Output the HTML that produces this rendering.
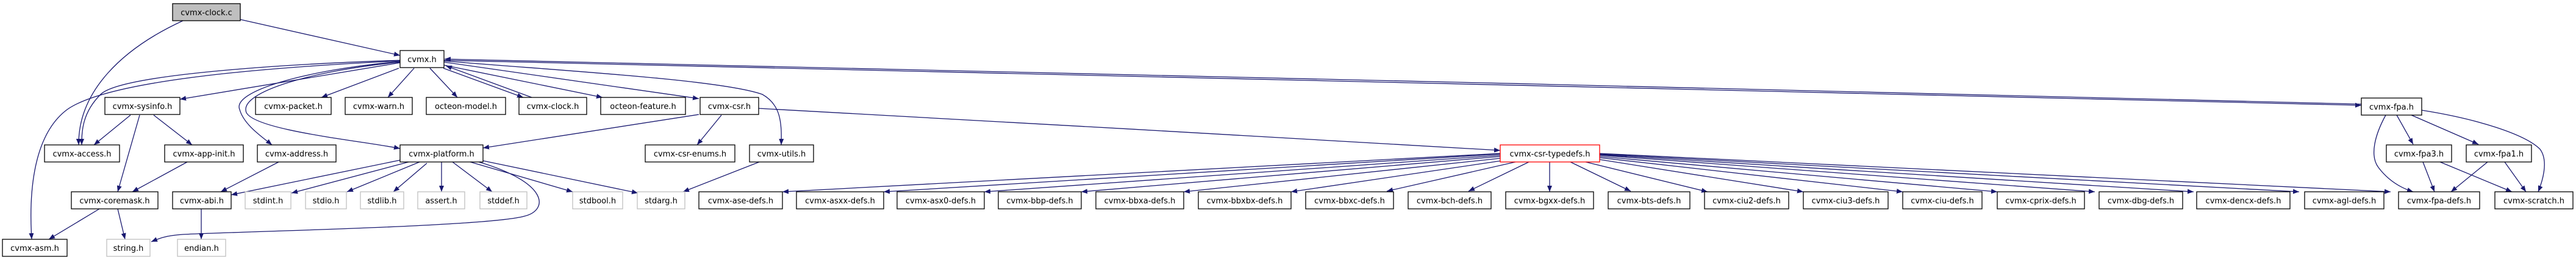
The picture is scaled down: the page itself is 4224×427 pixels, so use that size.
<!DOCTYPE html>
<html><head><meta charset="utf-8"><style>
html,body{margin:0;padding:0;background:#fff;width:4224px;height:427px;overflow:hidden}
svg text{font-family:"DejaVu Sans","Liberation Sans",sans-serif;font-size:13px;text-anchor:middle;fill:#000}
.e{fill:none;stroke:#191970;stroke-width:1.3;marker-end:url(#a)}
.n{fill:#fff;stroke:#000;stroke-width:1.3}
.g{fill:#fff;stroke:#bfbfbf;stroke-width:1.3}
</style></head><body>
<svg width="4224" height="427" viewBox="0 0 4224 427" xmlns="http://www.w3.org/2000/svg">
<defs><marker id="a" markerUnits="userSpaceOnUse" markerWidth="11" markerHeight="8" refX="10" refY="4" orient="auto"><path d="M0,0 L10,4 L0,8 z" fill="#191970"/></marker></defs>

<!-- edges -->
<path class="e" d="M394,32 L656,91"/>
<path class="e" d="M300,34 C200,80 128,150 129,238"/>
<path class="e" d="M656,99 C500,104 200,120 165,155 C135,185 134,215 134,238"/>
<path class="e" d="M656,100 C450,110 180,130 110,180 C50,225 48,330 52,393"/>
<path class="e" d="M656,103 L295,163"/>
<path class="e" d="M654,112 L527,160"/>
<path class="e" d="M679,112 L636,160"/>
<path class="e" d="M705,112 L750,160"/>
<path class="e" d="M727,112 L858,160"/>
<path class="e" d="M872,160 L731,108"/>
<path class="e" d="M728,107 L988,160"/>
<path class="e" d="M728,102 L1146,162"/>
<path class="e" d="M728,100 C900,115 1180,130 1250,155 C1280,172 1282,200 1281,238"/>
<path class="e" d="M3872,171 C3000,148 1200,108 729,97"/>
<path class="e" d="M728,99 C1200,111 3000,151 3872,173"/>
<path class="e" d="M656,101 C500,115 380,150 393,180 C400,205 430,225 446,238"/>
<path class="e" d="M656,102 C520,115 390,150 404,185 C420,215 600,232 656,244"/>
<path class="e" d="M214,189 L154,238"/>
<path class="e" d="M229,189 L193,315"/>
<path class="e" d="M252,189 L315,238"/>
<path class="e" d="M307,266 L217,315"/>
<path class="e" d="M457,266 L362,315"/>
<path class="e" d="M656,263 L379,320"/>
<path class="e" d="M670,266 L478,317"/>
<path class="e" d="M688,266 L569,315"/>
<path class="e" d="M700,268 L645,315"/>
<path class="e" d="M724,266 L724,315"/>
<path class="e" d="M742,266 L807,315"/>
<path class="e" d="M771,266 L939,315"/>
<path class="e" d="M792,264 L1046,317"/>
<path class="e" d="M785,266 C900,300 900,345 860,355 C800,372 400,380 300,385 C270,387 260,392 248,397"/>
<path class="e" d="M1146,188 L792,243"/>
<path class="e" d="M1183,189 L1143,238"/>
<path class="e" d="M1244,178 C1600,195 2100,228 2460,247"/>
<path class="e" d="M1245,266 L1120,315"/>
<path class="e" d="M163,343 L80,393"/>
<path class="e" d="M193,343 L205,393"/>
<path class="e" d="M330,343 L330,393"/>
<!-- typedefs fan -->
<path class="e" d="M2460,252 L1283,315"/>
<path class="e" d="M2460,253 L1449,315"/>
<path class="e" d="M2460,255 L1614,315"/>
<path class="e" d="M2460,257 L1773,315"/>
<path class="e" d="M2460,260 L1941,315"/>
<path class="e" d="M2462,264 L2117,315"/>
<path class="e" d="M2485,266 L2274,314"/>
<path class="e" d="M2507,266 L2408,314"/>
<path class="e" d="M2541,266 L2541,315"/>
<path class="e" d="M2575,266 L2674,314"/>
<path class="e" d="M2600,266 L2800,315"/>
<path class="e" d="M2623,262 L2957,315"/>
<path class="e" d="M2623,259 L3120,315"/>
<path class="e" d="M2623,257 L3275,315"/>
<path class="e" d="M2623,255 L3435,315"/>
<path class="e" d="M2623,254 L3597,315"/>
<path class="e" d="M2623,253 L3770,315"/>
<path class="e" d="M2623,252 L3920,315"/>
<!-- fpa -->
<path class="e" d="M3912,189 C3895,220 3885,255 3900,275 C3915,295 3935,308 3957,315"/>
<path class="e" d="M3930,189 L3957,237"/>
<path class="e" d="M3954,189 L4064,237"/>
<path class="e" d="M3971,181 C4060,195 4140,220 4165,245 C4180,265 4168,300 4162,315"/>
<path class="e" d="M3973,266 L3992,315"/>
<path class="e" d="M4001,266 L4119,315"/>
<path class="e" d="M4079,266 L4019,315"/>
<path class="e" d="M4107,266 L4142,315"/>

<!-- nodes -->
<rect x="283" y="6" width="111" height="28" fill="#bfbfbf" stroke="#000" stroke-width="1.3"/><text x="338.5" y="25">cvmx-clock.c</text>
<rect class="n" x="656" y="83" width="72" height="28"/><text x="692" y="102">cvmx.h</text>

<rect class="n" x="172" y="160" width="123" height="28"/><text x="233.5" y="179">cvmx-sysinfo.h</text>
<rect class="n" x="419" y="160" width="124" height="28"/><text x="481" y="179">cvmx-packet.h</text>
<rect class="n" x="566" y="160" width="110" height="28"/><text x="621" y="179">cvmx-warn.h</text>
<rect class="n" x="699" y="160" width="130" height="28"/><text x="764" y="179">octeon-model.h</text>
<rect class="n" x="851" y="160" width="111" height="28"/><text x="906.5" y="179">cvmx-clock.h</text>
<rect class="n" x="985" y="160" width="139" height="28"/><text x="1054.5" y="179">octeon-feature.h</text>
<rect class="n" x="1148" y="160" width="96" height="28"/><text x="1196" y="179">cvmx-csr.h</text>
<rect class="n" x="3872" y="161" width="99" height="28"/><text x="3921.5" y="180">cvmx-fpa.h</text>

<rect class="n" x="73" y="238" width="123" height="28"/><text x="134.5" y="257">cvmx-access.h</text>
<rect class="n" x="270" y="238" width="129" height="28"/><text x="334.5" y="257">cvmx-app-init.h</text>
<rect class="n" x="422" y="238" width="129" height="28"/><text x="486.5" y="257">cvmx-address.h</text>
<rect class="n" x="656" y="238" width="136" height="28"/><text x="724" y="257">cvmx-platform.h</text>
<rect class="n" x="1058" y="238" width="147" height="28"/><text x="1131.5" y="257">cvmx-csr-enums.h</text>
<rect class="n" x="1229" y="238" width="105" height="28"/><text x="1281.5" y="257">cvmx-utils.h</text>
<rect x="2460" y="238" width="163" height="28" fill="#fff" stroke="#ff0000" stroke-width="1.3"/><text x="2541.5" y="257">cvmx-csr-typedefs.h</text>
<rect class="n" x="3913" y="238" width="107" height="28"/><text x="3966.5" y="257">cvmx-fpa3.h</text>
<rect class="n" x="4044" y="238" width="107" height="28"/><text x="4097.5" y="257">cvmx-fpa1.h</text>

<rect class="n" x="117" y="315" width="142" height="28"/><text x="188" y="334">cvmx-coremask.h</text>
<rect class="n" x="283" y="315" width="96" height="28"/><text x="331" y="334">cvmx-abi.h</text>
<rect class="g" x="402" y="315" width="75" height="28"/><text x="439.5" y="334">stdint.h</text>
<rect class="g" x="501" y="315" width="67" height="28"/><text x="534.5" y="334">stdio.h</text>
<rect class="g" x="591" y="315" width="71" height="28"/><text x="626.5" y="334">stdlib.h</text>
<rect class="g" x="685" y="315" width="77" height="28"/><text x="723.5" y="334">assert.h</text>
<rect class="g" x="787" y="315" width="77" height="28"/><text x="825.5" y="334">stddef.h</text>
<rect class="g" x="939" y="315" width="82" height="28"/><text x="980" y="334">stdbool.h</text>
<rect class="g" x="1045" y="315" width="78" height="28"/><text x="1084" y="334">stdarg.h</text>
<rect class="n" x="1146" y="315" width="137" height="28"/><text x="1214.5" y="334">cvmx-ase-defs.h</text>
<rect class="n" x="1306" y="315" width="143" height="28"/><text x="1377.5" y="334">cvmx-asxx-defs.h</text>
<rect class="n" x="1471" y="315" width="143" height="28"/><text x="1542.5" y="334">cvmx-asx0-defs.h</text>
<rect class="n" x="1637" y="315" width="136" height="28"/><text x="1705" y="334">cvmx-bbp-defs.h</text>
<rect class="n" x="1797" y="315" width="144" height="28"/><text x="1869" y="334">cvmx-bbxa-defs.h</text>
<rect class="n" x="1965" y="315" width="152" height="28"/><text x="2041" y="334">cvmx-bbxbx-defs.h</text>
<rect class="n" x="2141" y="315" width="144" height="28"/><text x="2213" y="334">cvmx-bbxc-defs.h</text>
<rect class="n" x="2309" y="315" width="136" height="28"/><text x="2377" y="334">cvmx-bch-defs.h</text>
<rect class="n" x="2469" y="315" width="144" height="28"/><text x="2541" y="334">cvmx-bgxx-defs.h</text>
<rect class="n" x="2637" y="315" width="134" height="28"/><text x="2704" y="334">cvmx-bts-defs.h</text>
<rect class="n" x="2795" y="315" width="138" height="28"/><text x="2864" y="334">cvmx-ciu2-defs.h</text>
<rect class="n" x="2957" y="315" width="139" height="28"/><text x="3026.5" y="334">cvmx-ciu3-defs.h</text>
<rect class="n" x="3120" y="315" width="130" height="28"/><text x="3185" y="334">cvmx-ciu-defs.h</text>
<rect class="n" x="3275" y="315" width="143" height="28"/><text x="3346.5" y="334">cvmx-cprix-defs.h</text>
<rect class="n" x="3442" y="315" width="137" height="28"/><text x="3510.5" y="334">cvmx-dbg-defs.h</text>
<rect class="n" x="3602" y="315" width="153" height="28"/><text x="3678.5" y="334">cvmx-dencx-defs.h</text>
<rect class="n" x="3779" y="315" width="130" height="28"/><text x="3844" y="334">cvmx-agl-defs.h</text>
<rect class="n" x="3933" y="315" width="133" height="28"/><text x="3999.5" y="334">cvmx-fpa-defs.h</text>
<rect class="n" x="4091" y="315" width="128" height="28"/><text x="4155" y="334">cvmx-scratch.h</text>

<rect class="n" x="4" y="393" width="106" height="28"/><text x="57" y="412">cvmx-asm.h</text>
<rect class="g" x="175" y="393" width="71" height="28"/><text x="210.5" y="412">string.h</text>
<rect class="g" x="291" y="393" width="79" height="28"/><text x="330.5" y="412">endian.h</text>
</svg>
</body></html>
